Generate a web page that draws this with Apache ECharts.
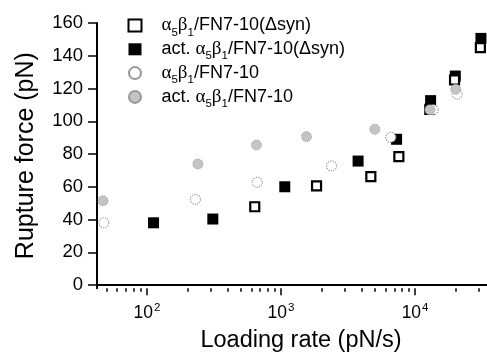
<!DOCTYPE html>
<html><head><meta charset="utf-8">
<script src="https://cdn.jsdelivr.net/npm/echarts@6/dist/echarts.min.js"></script>
<style>html,body{margin:0;padding:0;background:#fff}#c{width:487px;height:355px}</style>
</head><body><div id="c"></div>
<script>
// ---- data ----
const seriesNames = ['α5β1/FN7-10(Δsyn)', 'act. α5β1/FN7-10(Δsyn)', 'α5β1/FN7-10', 'act. α5β1/FN7-10'];
const openSquare = [[637,47.8],[1841,60.5],[4677,66.2],[7570,78.4],[12880,107.3],[19700,125.2],[30700,145]];
const actSquare = [[112,38],[310,40.3],[1067,60],[3758,75.7],[7280,89],[13060,112.6],[19950,127.6],[31000,150.6]];
const openCircle = [[47.7,38],[230,52.3],[664,62.7],[2383,72.7],[6590,90.2],[13650,107],[20600,116.5]];
const actCircle = [[47,51.5],[240,73.9],[656,85.5],[1549,90.6],[5012,95.1],[12900,107],[20100,119.5]];
const yTicks = [0,20,40,60,80,100,120,140,160];
const xMajorExponents = [2,3,4];
const xMinorTicks = [50,60,70,80,90,200,300,400,500,600,700,800,900,2000,3000,4000,5000,6000,7000,8000,9000,20000,30000];
const xMin = 42.4, xMax = 34400;

const FONT = "'Liberation Sans', Arial, Helvetica, sans-serif";
const GREEK = "'Liberation Serif', 'Times New Roman', serif";

function wrapParts(name) {
  const parts = name.split(/(α5β1)/);
  return parts.map(p => p === 'α5β1' ? '{g|α}{s|5}{g|β}{s|1}' : (p ? '{t|' + p + '}' : '')).join('');
}

const chart = echarts.init(document.getElementById('c'), null, {renderer: 'canvas'});
const lg = Math.log10;

const option = {
  animation: false,
  backgroundColor: '#fff',
  textStyle: {fontFamily: FONT, color: '#000'},
  grid: {left: 97, right: 0, top: 23, bottom: 66.7, containLabel: false, outerBoundsMode: 'none'},
  legend: {
    orient: 'vertical', left: 127.5, top: 16, padding: 0, itemGap: 1.3,
    itemWidth: 13, itemHeight: 12,
    data: [
      {name: seriesNames[0], icon: 'rect'},
      {name: seriesNames[1], icon: 'rect'},
      {name: seriesNames[2], icon: 'circle'},
      {name: seriesNames[3], icon: 'circle'}
    ],
    formatter: wrapParts,
    textStyle: {
      padding: [0,0,0,15],
      rich: {
        t: {fontFamily: FONT, fontSize: 18, color: '#000', lineHeight: 20, verticalAlign: 'middle'},
        g: {fontFamily: GREEK, fontSize: 19, color: '#000', lineHeight: 20, verticalAlign: 'middle'},
        s: {fontFamily: FONT, fontSize: 11.5, color: '#000', lineHeight: 12, verticalAlign: 'bottom', padding: [0,0,-3,0]}
      }
    }
  },
  xAxis: [
    {
      type: 'log', min: xMin, max: xMax, logBase: 10, position: 'bottom',
      axisLine: {show: true, lineStyle: {color: '#000', width: 2}},
      axisTick: {show: false}, axisLabel: {show: false}, splitLine: {show: false}, minorTick: {show: false},
      name: 'Loading rate (pN/s)', nameLocation: 'middle', nameGap: 40,
      nameTextStyle: {fontFamily: FONT, fontSize: 23.5, color: '#000', padding: [0,0,0,18]}
    },
    {
      type: 'value', min: lg(xMin), max: lg(xMax), position: 'bottom',
      axisLine: {show: false}, splitLine: {show: false},
      axisTick: {show: true, inside: false, length: 7, lineStyle: {color: '#000', width: 1.5}, customValues: xMajorExponents},
      axisLabel: {
        show: true, margin: 14, customValues: xMajorExponents,
        formatter: v => '{b|10}{p|' + Math.round(v) + '}',
        rich: {
          b: {fontFamily: FONT, fontSize: 17.5, color: '#000', lineHeight: 20, verticalAlign: 'bottom'},
          p: {fontFamily: FONT, fontSize: 11.5, color: '#000', lineHeight: 20, verticalAlign: 'top', padding: [0,0,0,1]}
        }
      }
    },
    {
      type: 'value', min: lg(xMin), max: lg(xMax), position: 'bottom',
      axisLine: {show: false}, splitLine: {show: false}, axisLabel: {show: false},
      axisTick: {show: true, inside: false, length: 3.5, lineStyle: {color: '#000', width: 1.5}, customValues: xMinorTicks.map(v => lg(v))}
    }
  ],
  yAxis: {
    type: 'value', min: -2, max: 160,
    axisLine: {show: true, lineStyle: {color: '#000', width: 2}},
    axisTick: {show: true, inside: false, length: 9, lineStyle: {color: '#000', width: 1.5}, customValues: yTicks},
    axisLabel: {show: true, margin: 14, customValues: yTicks, fontFamily: FONT, fontSize: 18.5, color: '#000'},
    splitLine: {show: false},
    name: 'Rupture force (pN)', nameLocation: 'middle', nameGap: 58,
    nameTextStyle: {fontFamily: FONT, fontSize: 25, color: '#000'}
  },
  series: [
    {name: seriesNames[1], type: 'scatter', xAxisIndex: 0, data: actSquare, symbol: 'rect', symbolSize: 11,
     itemStyle: {color: '#000', borderColor: '#000', borderWidth: 0, opacity: 1}},
    {name: seriesNames[0], type: 'scatter', xAxisIndex: 0, data: openSquare, symbol: 'rect', symbolSize: 9,
     itemStyle: {color: '#fff', borderColor: '#000', borderWidth: 2.2, opacity: 1}},
    {name: seriesNames[2], type: 'scatter', xAxisIndex: 0, data: openCircle, symbol: 'circle', symbolSize: 10,
     itemStyle: {color: '#fff', borderColor: '#999', borderWidth: 1.2, borderType: 'dotted', opacity: 1}},
    {name: seriesNames[3], type: 'scatter', xAxisIndex: 0, data: actCircle, symbol: 'circle', symbolSize: 10,
     itemStyle: {color: '#c4c4c4', borderColor: '#999', borderWidth: 1, borderType: 'dotted', opacity: 1}}
  ]
};
chart.setOption(option);
</script>
</body></html>
